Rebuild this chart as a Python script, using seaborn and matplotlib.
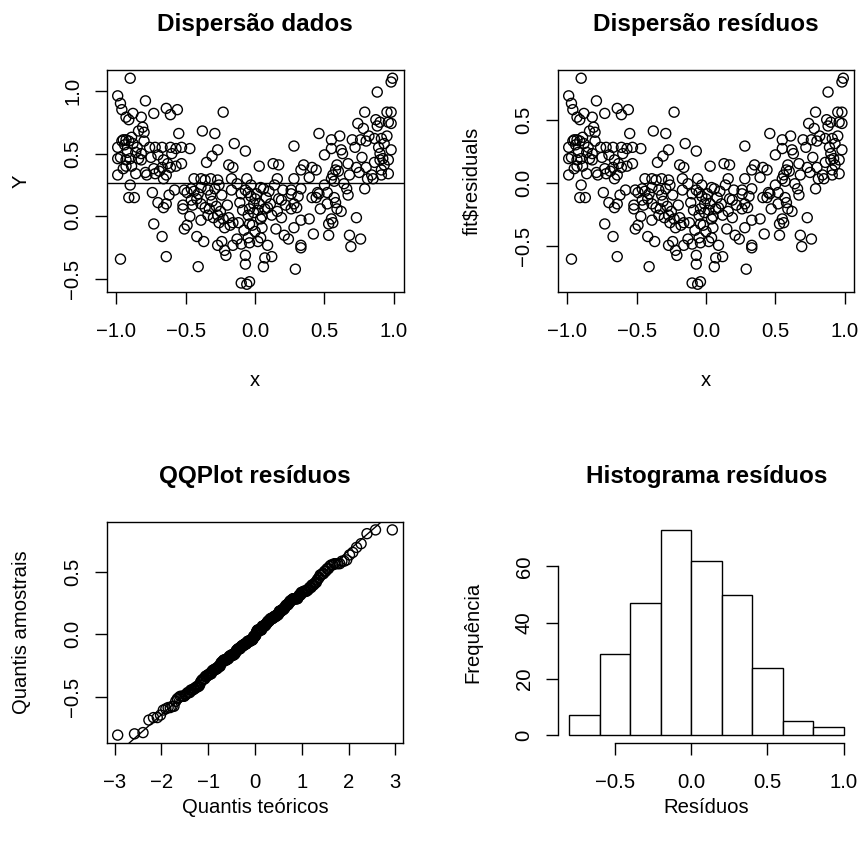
import numpy as np
import matplotlib
matplotlib.use("Agg")
import matplotlib.pyplot as plt
import seaborn as sns
from statistics import NormalDist

# observações (x, Y), por região
x_sup_esq = [-0.90, -0.99, -0.79, -0.97, -0.96, -0.64, -0.56, -0.61, -0.73, -0.93,
             -0.88, -0.91, -0.82, -0.81, -0.84, -0.80, -0.55, -0.96, -0.95, -0.93,
             -0.91, -0.89, -0.80, -0.99, -0.76, -0.72, -0.67, -0.61, -0.57, -0.53,
             -0.47, -0.92, -0.86, -0.82, -0.99, -0.97, -0.93, -0.90, -0.84, -0.82,
             -0.66, -0.63, -0.61, -0.57, -0.67, -0.73, -0.79, -0.78, -0.72, -0.99,
             -0.93, -0.86, -0.66]
y_sup_esq = [1.10, 0.96, 0.92, 0.90, 0.85, 0.86, 0.85, 0.81, 0.82, 0.79,
             0.82, 0.77, 0.79, 0.71, 0.68, 0.67, 0.66, 0.60, 0.61, 0.61,
             0.60, 0.63, 0.60, 0.55, 0.55, 0.55, 0.55, 0.55, 0.54, 0.55,
             0.54, 0.51, 0.51, 0.50, 0.46, 0.47, 0.45, 0.46, 0.46, 0.45,
             0.45, 0.42, 0.39, 0.40, 0.39, 0.38, 0.35, 0.33, 0.34, 0.33,
             0.40, 0.34, 0.30]

x_sup_meio = [-0.38, -0.29, -0.15, -0.07, -0.27, -0.31, -0.35, -0.19, -0.16, -0.23,
              -0.44, -0.39, -0.32, -0.27, -0.17, -0.06]
y_sup_meio = [0.68, 0.66, 0.58, 0.52, 0.53, 0.48, 0.43, 0.41, 0.39, 0.83,
              0.30, 0.30, 0.30, 0.29, 0.30, 0.30]

x_sup_dir = [0.99, 0.98, 0.88, 0.79, 0.87, 0.95, 0.98, 0.74, 0.78, 0.88,
             0.90, 0.98, 0.46, 0.61, 0.55, 0.55, 0.62, 0.63, 0.70, 0.76,
             0.82, 0.80, 0.91, 0.95, 0.89, 0.90, 0.92, 0.98, 0.96, 0.90,
             0.28, 0.50, 0.03, 0.13, 0.17, 0.35, 0.41, 0.33, 0.44, 0.59,
             0.58, 0.56, 0.73, 0.80, 0.75, 0.84, 0.91, 0.28, 0.55, 0.68,
             0.16, 0.81, 0.96, 0.96, 0.39, 0.85, 0.91, 0.57, 0.64, 0.50]
y_sup_dir = [1.10, 1.07, 0.99, 0.83, 0.77, 0.83, 0.83, 0.74, 0.70, 0.72,
             0.75, 0.74, 0.66, 0.64, 0.61, 0.54, 0.53, 0.50, 0.61, 0.61,
             0.64, 0.60, 0.62, 0.64, 0.55, 0.50, 0.46, 0.53, 0.45, 0.45,
             0.56, 0.49, 0.40, 0.42, 0.41, 0.41, 0.39, 0.37, 0.37, 0.41,
             0.37, 0.33, 0.39, 0.39, 0.35, 0.33, 0.37, 0.30, 0.30, 0.33,
             0.30, 0.30, 0.34, 0.75, 0.31, 0.30, 0.33, 0.28, 0.26, 0.25]

x_inf_dir = [0.79, 0.04, 0.06, 0.01, -0.01, -0.04, 0.04, -0.04, 0.05, 0.04,
             0.02, 0.09, 0.07, 0.06, -0.04, 0.17, 0.19, 0.26, 0.26, 0.33,
             0.28, 0.30, 0.26, 0.11, 0.12, 0.19, 0.28, 0.33, 0.39, 0.46,
             0.44, 0.41, 0.45, 0.52, 0.57, 0.58, 0.59, 0.62, 0.52, 0.47,
             0.55, 0.53, 0.56, 0.66, 0.67, 0.73, 0.42, 0.53, 0.68, 0.76,
             0.69, 0.33, 0.33, 0.21, 0.24, 0.15, 0.29, -0.03, 0.00, 0.02,
             0.05, 0.00, 0.08, 0.10, 0.14, 0.03, 0.07, 0.67, 0.93, 0.16,
             0.22, 0.86, 0.77, 0.72, 0.60, 0.93, 0.86, 0.12, 0.20, 0.09,
             0.31]
y_inf_dir = [0.22, 0.23, 0.22, 0.18, 0.10, 0.06, -0.02, -0.06, -0.09, -0.17,
             -0.20, -0.23, -0.33, -0.40, -0.52, 0.14, 0.13, 0.21, 0.18, 0.22,
             0.10, 0.07, 0.06, 0.10, 0.01, -0.01, -0.09, -0.03, -0.02, 0.18,
             0.15, 0.15, 0.19, 0.19, 0.15, 0.11, 0.06, 0.04, 0.10, 0.06,
             -0.02, -0.06, -0.05, 0.22, 0.17, -0.01, -0.14, -0.15, -0.15, -0.18,
             -0.24, -0.23, -0.25, -0.15, -0.18, -0.10, -0.42, 0.25, 0.14, 0.05,
             0.00, -0.12, 0.15, 0.20, 0.25, 0.10, 0.06, 0.42, 0.58, 0.04,
             0.09, 0.62, 0.47, 0.55, 0.36, 0.41, 0.43, -0.32, 0.21, 0.07,
             0.16]

x_inf_esq = [-0.90, -0.91, -0.87, -0.74, -0.70, -0.66, -0.64, -0.62, -0.73, -0.67,
             -0.97, -0.64, -0.41, -0.51, -0.49, -0.47, -0.42, -0.37, -0.39, -0.27,
             -0.24, -0.22, -0.21, -0.16, -0.07, -0.07, -0.10, -0.06, -0.13, -0.10,
             -0.05, -0.04, -0.51, -0.49, -0.46, -0.44, -0.41, -0.39, -0.36, -0.34,
             -0.32, -0.29, -0.26, -0.24, -0.17, -0.46, -0.42, -0.39, -0.36, -0.33,
             -0.34, -0.30, -0.27, -0.23, -0.19, -0.16, -0.12, -0.11, -0.07, -0.05,
             -0.09, -0.05, -0.02, -0.52, -0.52, -0.45, -0.22, -0.18, -0.13, -0.94,
             -0.88, -0.85, -0.31, -0.28, -0.25, -0.20, -0.70, -0.10, -0.03, -0.01,
             -0.60, -0.75, -0.95, -0.89, -0.69, -0.64, -0.53, -0.26, -0.08, -0.58]
y_inf_esq = [0.25, 0.15, 0.15, 0.19, 0.11, 0.07, 0.10, 0.17, -0.06, -0.16,
             -0.34, -0.32, -0.40, -0.10, -0.07, 0.00, -0.16, -0.20, -0.03, -0.23,
             -0.20, -0.27, -0.31, -0.23, -0.31, -0.38, -0.53, -0.54, -0.18, -0.22,
             -0.17, -0.21, 0.21, 0.19, 0.22, 0.20, 0.18, 0.23, 0.29, 0.21,
             0.17, 0.22, 0.25, 0.17, 0.21, 0.13, 0.14, 0.10, 0.07, 0.06,
             0.01, -0.01, 0.01, -0.02, -0.01, -0.05, -0.05, 0.11, 0.21, 0.19,
             0.05, 0.01, -0.07, 0.09, 0.06, 0.09, -0.09, -0.07, 0.26, 0.57,
             0.58, 0.55, 0.12, 0.08, 0.04, 0.09, 0.49, 0.18, 0.16, 0.03,
             0.50, 0.47, 0.38, 0.40, 0.36, 0.33, 0.42, -0.05, -0.11, 0.21]

# histograma dos resíduos (classes de 0.2)
hist_bordas = [-0.8, -0.6, -0.4, -0.2, 0.0, 0.2, 0.4, 0.6, 0.8, 1.0]
hist_freq = [7, 29, 47, 73, 62, 50, 24, 5, 3]

x = np.array(x_sup_esq + x_sup_meio + x_sup_dir + x_inf_dir + x_inf_esq)
Y = np.array(y_sup_esq + y_sup_meio + y_sup_dir + y_inf_dir + y_inf_esq)

# lm(Y ~ 1)
fit_coef = Y.mean()
residuos = Y - fit_coef

# qqnorm / qqline
n = len(residuos)
a = 0.5 if n > 10 else 3 / 8
pp = (np.arange(1, n + 1) - a) / (n + 1 - 2 * a)
teoricos = np.array([NormalDist().inv_cdf(p) for p in pp])
amostrais = np.sort(residuos)
qy = np.quantile(residuos, [0.25, 0.75])
qx = np.array([NormalDist().inv_cdf(0.25), NormalDist().inv_cdf(0.75)])
incl = (qy[1] - qy[0]) / (qx[1] - qx[0])
inter = qy[0] - incl * qx[0]


def rlim(v):
    lo, hi = float(np.min(v)), float(np.max(v))
    d = 0.04 * (hi - lo)
    return lo - d, hi + d


sns.set_style("ticks")
plt.rcParams["font.family"] = ["Liberation Sans", "DejaVu Sans"]
plt.rcParams["axes.unicode_minus"] = True
plt.rcParams["text.color"] = "black"
plt.rcParams["axes.labelcolor"] = "black"
plt.rcParams["xtick.color"] = "black"
plt.rcParams["ytick.color"] = "black"

W, H = 861, 844
fig = plt.figure(figsize=(W / 100, H / 100), dpi=100)
FS = 14.6


def painel(l, t, r, b):
    ax = fig.add_axes([l / W, 1 - b / H, (r - l) / W, (b - t) / H])
    ax._px = (r - l, b - t)
    return ax


def estilo(ax, titulo, xlab, ylab, xlab_off=94):
    for s in ax.spines.values():
        s.set_color("black")
        s.set_linewidth(1.0)
    ax.tick_params(direction="out", length=8.6, width=1.0, colors="black",
                   labelsize=FS)
    ax.tick_params(axis="x", pad=13)
    ax.tick_params(axis="y", pad=8.9, labelrotation=90)
    for lb in ax.get_yticklabels():
        lb.set_va("center")
    ax.set_title(titulo, fontsize=17.5, fontweight="bold", pad=28, color="black")
    w, h = ax._px
    ax.set_xlabel(xlab, fontsize=FS, color="black")
    ax.xaxis.set_label_coords(0.5, -xlab_off / h)
    ax.xaxis.label.set_va("baseline")
    ax.set_ylabel(ylab, fontsize=FS, color="black")
    ax.yaxis.set_label_coords(-80 / w, 0.5)
    ax.yaxis.label.set_va("baseline")


def fmt(v):
    return [f"{t:.1f}".replace("-", "\u2212") for t in v]


pts = dict(marker="o", s=52, facecolor="none", edgecolor="black",
           linewidth=1.0, legend=False)

# Dispersão dados
ax1 = painel(106.7, 70, 403.5, 292.5)
sns.scatterplot(x=x, y=Y, ax=ax1, **pts)
ax1.axhline(fit_coef, color="black", lw=1.0)
ax1.set_xlim(rlim(x))
ax1.set_ylim(rlim(Y))
ax1.set_xticks([-1, -0.5, 0, 0.5, 1], fmt([-1, -0.5, 0, 0.5, 1]))
ax1.set_yticks([-0.5, 0, 0.5, 1], fmt([-0.5, 0, 0.5, 1]))
estilo(ax1, "Dispersão dados", "x", "Y")

# Dispersão resíduos
ax2 = painel(557.7, 70, 854.3, 292.5)
sns.scatterplot(x=x, y=residuos, ax=ax2, **pts)
ax2.set_xlim(rlim(x))
ax2.set_ylim(rlim(residuos))
ax2.set_xticks([-1, -0.5, 0, 0.5, 1], fmt([-1, -0.5, 0, 0.5, 1]))
ax2.set_yticks([-0.5, 0, 0.5], fmt([-0.5, 0, 0.5]))
estilo(ax2, "Dispersão resíduos", "x", "fit$residuals")

# QQPlot resíduos
ax3 = painel(106.7, 521.7, 403.3, 743.3)
sns.scatterplot(x=teoricos, y=amostrais, ax=ax3, **pts)
ax3.axline((0, inter), slope=incl, color="black", lw=1.0)
ax3.set_xlim(rlim(teoricos))
ax3.set_ylim(rlim(amostrais))
ax3.set_xticks(range(-3, 4), [str(t).replace("-", "\u2212") for t in range(-3, 4)])
ax3.set_yticks([-0.5, 0, 0.5], fmt([-0.5, 0, 0.5]))
estilo(ax3, "QQPlot resíduos", "Quantis teóricos", "Quantis amostrais", xlab_off=70)

# Histograma resíduos
ax4 = painel(558.0, 521.7, 854.7, 743.3)
centros = [(hist_bordas[i] + hist_bordas[i + 1]) / 2 for i in range(len(hist_freq))]
sns.histplot(x=centros, weights=hist_freq, bins=hist_bordas, ax=ax4,
             color="white", edgecolor="black", linewidth=1.0, alpha=1)
ax4.set_xlim(rlim(hist_bordas))
ax4.set_ylim(rlim([0, max(hist_freq)]))
ax4.set_xticks([-0.5, 0, 0.5, 1], fmt([-0.5, 0, 0.5, 1]))
ax4.set_yticks([0, 20, 40, 60], ["0", "20", "40", "60"])
estilo(ax4, "Histograma resíduos", "Resíduos", "Frequência", xlab_off=70)
ax4.spines["top"].set_visible(False)
ax4.spines["right"].set_visible(False)
ax4.spines["left"].set_bounds(0, 60)
ax4.spines["bottom"].set_bounds(-0.5, 1.0)

fig.savefig("out.png", dpi=100, facecolor="white")
